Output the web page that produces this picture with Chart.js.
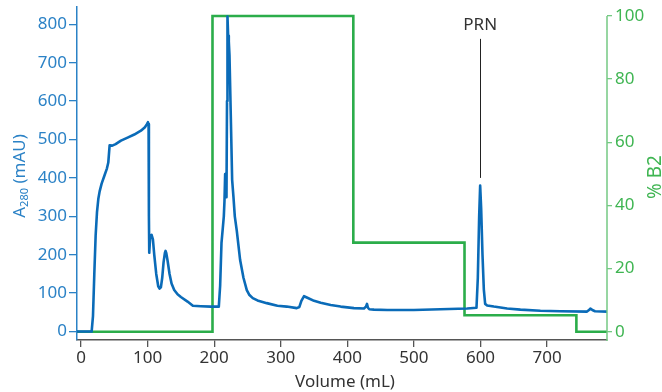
<!DOCTYPE html>
<html>
<head>
<meta charset="utf-8">
<script src="https://cdn.jsdelivr.net/npm/chart.js@4.4.1/dist/chart.umd.min.js"></script>
<style>
  html,body{margin:0;padding:0;background:#fff;}
  #c{display:block;}
</style>
</head>
<body>
<canvas id="c" width="662" height="392"></canvas>
<script>
// ---- Data ----
const volA280 = [-6,16,18,20,22,24,26,28,31,35,39,41,43,47,52,60,70,80,90,96,99,100.5,101.5,102,102.5,103.5,104,106,108,110,113,116,118,120,122,124,126,127,128,130,133,136,140,145,150,160,168,180,195,207,209,211,213,214.5,215.5,216.5,217.5,218.5,219.3,220,221,222,223,225,227,229,231,234,239,244,249,253,258,265,279,295,309,324,328,331,335,340,350,360,375,390,410,425,428,429.5,431,433,440,460,500,540,580,594,596,598,599.5,601,603,605,607,610,620,640,660,690,720,760,763,765,768,772,790];
const a280    = [0,0,40,150,250,310,345,365,385,405,425,440,485,484,488,497,505,513,523,532,540,545,540,300,205,205,250,252,240,200,150,118,112,115,140,180,205,210,205,185,150,125,108,97,90,78,67,66,65,65,120,230,270,300,340,410,380,350,600,820,770,755,720,560,395,350,300,262,186,140,108,95,87,81,74,67,65,61,64,80,92,88,80,75,69,65,61,60,65,72,62,58,57,56,56,58,60,62,140,300,380,320,200,110,72,68,65,60,57,54,53,52,56,60,56,53,52];
const volB2   = [-6,197.5,197.5,409,409,576,576,744,744,790];
const pctB2   = [0,0,100,100,28.2,28.2,5.2,5.2,0,0];
const xTicks  = [0,100,200,300,400,500,600,700];
const yTicks  = [0,100,200,300,400,500,600,700,800];
const y2Ticks = [0,20,40,60,80,100];
const peakLabels = [{text:'PRN', x:599.5, yText:800, yTop:762, yBottom:400}];

const FONT = '"Noto Sans", "Open Sans", sans-serif';
const BLUE_LINE = '#0a6bb8', BLUE_TXT = '#2b82c6';
const GREEN_LINE = '#2bad4a', GREEN_TXT = '#3fb552', GREEN_AXIS = '#74c983';
const GRAY = '#333333';

const toPts = (xs, ys) => xs.map((v, i) => ({x: v, y: ys[i]}));

const overlay = {
  id: 'overlay',
  afterDraw(chart) {
    const ctx = chart.ctx, sx = chart.scales.x, sy = chart.scales.y, sy2 = chart.scales.y2;
    const area = chart.chartArea;
    ctx.save();
    // right axis line (starts at the 100 tick)
    ctx.strokeStyle = GREEN_AXIS; ctx.lineWidth = 1.5;
    ctx.beginPath();
    ctx.moveTo(area.right, sy2.getPixelForValue(100));
    ctx.lineTo(area.right, area.bottom + 1);
    ctx.stroke();

    // peak annotations
    peakLabels.forEach(p => {
      const px = sx.getPixelForValue(p.x);
      ctx.strokeStyle = '#222'; ctx.lineWidth = 1;
      ctx.beginPath();
      ctx.moveTo(Math.round(px) + 0.5, sy.getPixelForValue(p.yTop));
      ctx.lineTo(Math.round(px) + 0.5, sy.getPixelForValue(p.yBottom));
      ctx.stroke();
      ctx.fillStyle = GRAY; ctx.font = '17px ' + FONT;
      ctx.textAlign = 'center'; ctx.textBaseline = 'middle';
      ctx.fillText(p.text, px, sy.getPixelForValue(p.yText) + 1);
    });

    // x title
    ctx.fillStyle = GRAY; ctx.font = '17px ' + FONT;
    ctx.textAlign = 'center'; ctx.textBaseline = 'middle';
    ctx.fillText('Volume (mL)', (area.left + area.right) / 2 + 3, 382);

    // left title: A280 (mAU) with subscript
    ctx.save();
    ctx.translate(25, 176);
    ctx.rotate(-Math.PI / 2);
    ctx.fillStyle = BLUE_TXT; ctx.textBaseline = 'alphabetic'; ctx.textAlign = 'left';
    const big = '17px ' + FONT, small = '11px ' + FONT;
    ctx.font = big; const wA = ctx.measureText('A').width; const wRest = ctx.measureText(' (mAU)').width;
    ctx.font = small; const wSub = ctx.measureText('280').width;
    let x0 = -(wA + wSub + wRest) / 2;
    ctx.font = big; ctx.fillText('A', x0, 0);
    ctx.font = small; ctx.fillText('280', x0 + wA, 3);
    ctx.font = big; ctx.fillText(' (mAU)', x0 + wA + wSub, 0);
    ctx.restore();

    // right title
    ctx.save();
    ctx.translate(661, 177);
    ctx.rotate(-Math.PI / 2);
    ctx.fillStyle = GREEN_TXT; ctx.font = '19px ' + FONT;
    ctx.textAlign = 'center'; ctx.textBaseline = 'alphabetic';
    ctx.fillText('% B2', 0, 0);
    ctx.restore();
    ctx.restore();
  }
};

const noPad = s => { s.paddingTop = 0; s.paddingBottom = 0; };

new Chart(document.getElementById('c'), {
  type: 'line',
  data: {
    datasets: [
      {
        label: 'A280 (mAU)', data: toPts(volA280, a280), yAxisID: 'y',
        borderColor: BLUE_LINE, borderWidth: 2.6, pointRadius: 0, tension: 0,
        borderJoinStyle: 'round', borderCapStyle: 'round', fill: false
      },
      {
        label: '% B2', data: toPts(volB2, pctB2), yAxisID: 'y2',
        borderColor: GREEN_LINE, borderWidth: 2.6, pointRadius: 0, tension: 0,
        borderJoinStyle: 'miter', fill: false
      }
    ]
  },
  options: {
    responsive: false, animation: false, devicePixelRatio: 1,
    layout: { padding: { top: 7, left: 0, right: 0, bottom: 0 } },
    plugins: { legend: { display: false }, tooltip: { enabled: false } },
    scales: {
      x: {
        type: 'linear', min: -6, max: 790,
        afterBuildTicks: s => { s.ticks = xTicks.map(v => ({value: v})); },
        afterFit: s => { s.height = 52; s.paddingLeft = 0; s.paddingRight = 0; },
        grid: { drawOnChartArea: false, color: '#555', tickLength: 7, lineWidth: 1.3 },
        border: { color: '#555', width: 1.5 },
        ticks: { color: GRAY, font: { size: 17, family: FONT }, padding: 1, maxRotation: 0 }
      },
      y: {
        type: 'linear', position: 'left', min: -22, max: 845,
        afterBuildTicks: s => { s.ticks = yTicks.map(v => ({value: v})); },
        afterFit: s => { s.width = 77; noPad(s); },
        grid: { drawOnChartArea: false, color: BLUE_TXT, tickLength: 8, lineWidth: 1.3 },
        border: { color: BLUE_TXT, width: 1.5 },
        ticks: { color: BLUE_TXT, font: { size: 17, family: FONT }, padding: 2 }
      },
      y2: {
        type: 'linear', position: 'right', min: -2.63, max: 102.85,
        afterBuildTicks: s => { s.ticks = y2Ticks.map(v => ({value: v})); },
        afterFit: s => { s.width = 55; noPad(s); },
        grid: { drawOnChartArea: false, color: GREEN_AXIS, tickLength: 5, lineWidth: 1.3 },
        border: { display: false },
        ticks: { color: GREEN_TXT, font: { size: 17, family: FONT }, padding: 3 }
      }
    }
  },
  plugins: [overlay]
});
</script>
</body>
</html>
